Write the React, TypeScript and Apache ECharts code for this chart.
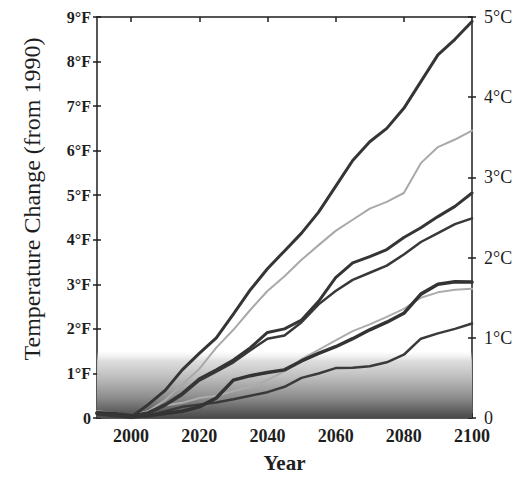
import React, { useEffect, useRef } from "react";
import * as echarts from "echarts";

// Years (x values) shared by all scenario curves
const years = [
  1990, 1995, 2000, 2005, 2010, 2015, 2020, 2025, 2030, 2035, 2040, 2045,
  2050, 2055, 2060, 2065, 2070, 2075, 2080, 2085, 2090, 2095, 2100,
];

// Temperature change (°F) for each curve
const lineA = [0.1, 0.05, 0.02, 0.3, 0.62, 1.08, 1.45, 1.8, 2.33, 2.88, 3.35, 3.75, 4.15, 4.62, 5.2, 5.78, 6.2, 6.5, 6.95, 7.55, 8.15, 8.5, 8.9];
const lineB = [0.1, 0.08, 0.05, 0.15, 0.4, 0.75, 1.1, 1.58, 1.98, 2.43, 2.85, 3.18, 3.55, 3.88, 4.2, 4.45, 4.7, 4.85, 5.05, 5.72, 6.08, 6.25, 6.45];
const lineC = [0.1, 0.08, 0.05, 0.12, 0.3, 0.55, 0.88, 1.08, 1.3, 1.58, 1.92, 2.0, 2.2, 2.62, 3.15, 3.48, 3.62, 3.78, 4.05, 4.27, 4.52, 4.75, 5.05];
const lineD = [0.1, 0.08, 0.05, 0.1, 0.28, 0.52, 0.84, 1.04, 1.25, 1.52, 1.78, 1.85, 2.15, 2.55, 2.85, 3.1, 3.26, 3.42, 3.67, 3.95, 4.15, 4.35, 4.48];
const lineE = [0.12, 0.1, 0.05, 0.05, 0.1, 0.15, 0.25, 0.45, 0.85, 0.95, 1.02, 1.08, 1.28, 1.45, 1.6, 1.78, 1.98, 2.15, 2.35, 2.78, 3.0, 3.06, 3.05];
const lineF = [0.15, 0.12, 0.05, 0.15, 0.28, 0.34, 0.45, 0.5, 0.6, 0.7, 0.85, 1.05, 1.32, 1.53, 1.74, 1.95, 2.1, 2.27, 2.45, 2.7, 2.82, 2.88, 2.9];
const lineG = [0.08, 0.06, 0.0, 0.05, 0.15, 0.25, 0.3, 0.35, 0.42, 0.5, 0.58, 0.7, 0.9, 1.0, 1.12, 1.13, 1.16, 1.25, 1.42, 1.78, 1.9, 2.0, 2.12];

// Natural-variability shaded band
const bandYears = [1990, 2100];
const bandTop = [1.5, 1.5];

// Tick labels
const xTickYears = [2000, 2020, 2040, 2060, 2080, 2100];
const xTopTickYears = [2000, 2020, 2040, 2060, 2080];
const yTitle = "Temperature Change (from 1990)";

const SERIF = "'Liberation Serif', 'DejaVu Serif', serif";
const INK = "#1e1e1e";

export default function App() {
  const ref = useRef<HTMLDivElement>(null);

  useEffect(() => {
    if (!ref.current) return;
    const chart = echarts.init(ref.current, null, { renderer: "svg" });
    const pairs = (vals: number[]) => years.map((y, i) => [y, vals[i]]);

    const mkLine = (name: string, vals: number[], color: string, width: number, z: number) => ({
      name,
      type: "line",
      data: pairs(vals),
      showSymbol: false,
      symbol: "none",
      smooth: false,
      xAxisIndex: 0,
      yAxisIndex: 0,
      z,
      lineStyle: { color, width, join: "round", cap: "round" },
      silent: true,
    });

    const axisLineStyle = { color: INK, width: 1.5 };

    const option: any = {
      animation: false,
      backgroundColor: "#ffffff",
      grid: { left: 97, right: 56, top: 17, bottom: 57 },
      graphic: [
        {
          type: "text",
          x: 32,
          y: 199,
          rotation: Math.PI / 2,
          silent: true,
          style: {
            text: yTitle,
            font: "24px 'Liberation Serif', serif",
            fill: INK,
            textAlign: "center",
            textVerticalAlign: "middle",
          },
        },
      ],
      xAxis: [
        {
          type: "value",
          min: 1990,
          max: 2100,
          position: "bottom",
          axisLine: { show: true, onZero: false, lineStyle: axisLineStyle },
          axisTick: { show: true, inside: true, length: 5, customValues: xTickYears, lineStyle: axisLineStyle },
          axisLabel: {
            customValues: xTickYears,
            formatter: (v: number) => String(v),
            fontFamily: SERIF,
            fontSize: 18,
            fontWeight: "bold",
            color: INK,
            margin: 9,
          },
          splitLine: { show: false },
          name: "Year",
          nameLocation: "middle",
          nameGap: 34,
          nameTextStyle: { fontFamily: SERIF, fontSize: 21, fontWeight: "bold", color: INK },
        },
        {
          type: "value",
          min: 1990,
          max: 2100,
          position: "top",
          axisLine: { show: true, onZero: false, lineStyle: axisLineStyle },
          axisTick: { show: true, inside: true, length: 5, customValues: xTopTickYears, lineStyle: axisLineStyle },
          axisLabel: { show: false },
          splitLine: { show: false },
        },
      ],
      yAxis: [
        {
          type: "value",
          min: 0,
          max: 9,
          interval: 1,
          position: "left",
          axisLine: { show: true, lineStyle: axisLineStyle },
          axisTick: { show: true, inside: false, length: 4, lineStyle: axisLineStyle },
          axisLabel: {
            formatter: (v: number) => (v === 0 ? "0" : v + "°F"),
            fontFamily: SERIF,
            fontSize: 16,
            fontWeight: "bold",
            color: INK,
            margin: 6,
          },
          splitLine: { show: false },
        },
        {
          type: "value",
          min: 0,
          max: 9,
          interval: 1,
          position: "left",
          axisLine: { show: false },
          axisTick: { show: true, inside: true, length: 4, lineStyle: axisLineStyle },
          axisLabel: { show: false },
          splitLine: { show: false },
        },
        {
          type: "value",
          min: 0,
          max: 5,
          interval: 1,
          position: "right",
          axisLine: { show: true, lineStyle: axisLineStyle },
          axisTick: { show: true, inside: false, length: 4, lineStyle: axisLineStyle },
          axisLabel: {
            formatter: (v: number) => (v === 0 ? "0" : v + "°C"),
            fontFamily: SERIF,
            fontSize: 18,
            color: INK,
            margin: 12,
          },
          splitLine: { show: false },
        },
        {
          type: "value",
          min: 0,
          max: 5,
          interval: 1,
          position: "right",
          axisLine: { show: false },
          axisTick: { show: true, inside: true, length: 4, lineStyle: axisLineStyle },
          axisLabel: { show: false },
          splitLine: { show: false },
        },
      ],
      series: [
        {
          name: "band",
          type: "line",
          data: bandYears.map((y, i) => [y, bandTop[i]]),
          showSymbol: false,
          symbol: "none",
          xAxisIndex: 0,
          yAxisIndex: 0,
          z: 1,
          silent: true,
          lineStyle: { width: 0, opacity: 0 },
          areaStyle: {
            opacity: 1,
            color: new echarts.graphic.LinearGradient(0, 0, 0, 1, [
              { offset: 0, color: "rgba(230,230,230,0)" },
              { offset: 0.15, color: "rgba(215,215,215,0.85)" },
              { offset: 0.4, color: "#bcbcbc" },
              { offset: 0.7, color: "#8c8c8c" },
              { offset: 0.9, color: "#5e5e5e" },
              { offset: 1, color: "#4a4a4a" },
            ]),
          },
        },
        mkLine("B", lineB, "#a9a9a9", 2, 2),
        mkLine("F", lineF, "#acacac", 2, 2),
        mkLine("G", lineG, "#3a3a3a", 2.5, 3),
        mkLine("E", lineE, "#333333", 3.5, 3),
        mkLine("D", lineD, "#383838", 2.5, 3),
        mkLine("C", lineC, "#353535", 3, 3),
        mkLine("A", lineA, "#353535", 3, 3),
      ],
    };

    chart.setOption(option);
    return () => chart.dispose();
  }, []);

  return (
    <div
      ref={ref}
      style={{ position: "fixed", left: 0, top: 0, width: 528, height: 478, background: "#fff" }}
    />
  );
}
